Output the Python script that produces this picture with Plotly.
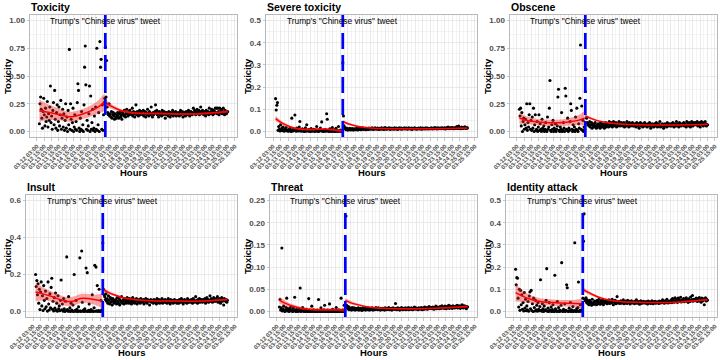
import pandas as pd
import plotly.graph_objects as go

# ---------------- data ----------------
BASE = pd.Timestamp("2020-03-12 03:00")          # first tick
TWEET = pd.Timestamp("2020-03-16 18:51")
DATA_START = pd.Timestamp("2020-03-12 07:00")
DATA_END = pd.Timestamp("2020-03-25 03:00")

panel_titles = ["Toxicity", "Severe toxicity", "Obscene", "Insult", "Threat", "Identity attack"]
y_max = [1.0, 0.5, 1.0, 0.6, 0.25, 0.5]
y_ticks = [
    [0, 0.25, 0.5, 0.75, 1.0],
    [0, 0.1, 0.2, 0.3, 0.4, 0.5],
    [0, 0.25, 0.5, 0.75, 1.0],
    [0, 0.2, 0.4, 0.6],
    [0, 0.05, 0.10, 0.15, 0.20, 0.25],
    [0, 0.1, 0.2, 0.3, 0.4, 0.5],
]
y_ticklabels = [
    ["0.00", "0.25", "0.50", "0.75", "1.00"],
    ["0.0", "0.1", "0.2", "0.3", "0.4", "0.5"],
    ["0.00", "0.25", "0.50", "0.75", "1.00"],
    ["0.0", "0.2", "0.4", "0.6"],
    ["0.00", "0.05", "0.10", "0.15", "0.20", "0.25"],
    ["0.0", "0.1", "0.2", "0.3", "0.4", "0.5"],
]
# values stored as integers; divide by the unit
value_unit = [100, 1000, 100, 1000, 1000, 1000]

# hours since BASE for each hourly observation
pre_hours = list(range(4, 112))     # 108 hours before the tweet
post_hours = list(range(112, 313))  # 201 hours after the tweet

tox_pre = [7, 25, 31, 20, 12, 3, 18, 30, 15, 5, 21, 9, 13, 27, 4, 16, 10, 22,
           41, 8, 14, 2, 19, 26, 6, 37, 11, 3, 17, 24, 1, 9, 22, 5, 15, 28, 2, 12, 20, 4,
           16, 1, 10, 25, 3, 13, 0, 19, 6, 74, 2, 25, 11, 1, 8, 21, 0, 4, 15, 2,
           9, 1, 26, 43, 37, 3, 0, 12, 2, 18, 1, 6, 0, 24, 58, 77, 42, 2, 10, 1,
           5, 16, 41, 0, 32, 2, 8, 20, 1, 3, 14, 0, 22, 2, 75, 1, 6, 17, 0, 81,
           58, 65, 2, 24, 1, 15, 26, 30]
tox_post = [76, 31, 64, 22, 17, 15, 25, 14, 16, 13, 18, 12, 15, 17, 14, 11, 16, 13, 12, 15,
            17, 14, 12, 16, 18, 13, 15, 11, 17, 16, 14, 19, 15, 13, 17, 20, 16, 14, 18, 15,
            19, 16, 17, 15, 21, 14, 18, 16, 13, 17, 24, 15, 18, 16, 14, 17, 19, 15, 16, 18,
            17, 15, 19, 14, 16, 18, 13, 17, 15, 20, 16, 14, 18, 17, 15, 22, 16, 13, 17, 15,
            16, 18, 24, 17, 19, 15, 16, 13, 18, 17, 15, 16, 14, 19, 17, 15, 18, 16, 12, 17,
            15, 17, 16, 14, 18, 16, 13, 17, 15, 16, 19, 14, 17, 15, 16, 18, 14, 16, 15, 17,
            16, 14, 17, 19, 15, 16, 18, 13, 16, 17, 15, 14, 18, 16, 15, 17, 19, 16, 14, 17,
            18, 16, 15, 17, 21, 16, 19, 17, 15, 18, 20, 16, 17, 19, 15, 18, 22, 17, 16, 19,
            17, 15, 18, 16, 14, 19, 17, 16, 18, 15, 21, 17, 16, 18, 20, 17, 15, 19, 16, 18,
            21, 17, 21, 16, 21, 18, 15, 21, 17, 19, 20, 16, 18, 21, 17, 15, 19, 18, 16, 17,
            18]

sev_pre = [148, 97, 118, 130, 5, 22, 10, 2, 30, 8, 15, 3, 20, 6, 1, 12, 4, 18, 7, 2,
           5, 1, 9, 14, 3, 0, 60, 8, 2, 11, 4, 74, 6, 1, 15, 3, 9, 2, 20, 45,
           7, 1, 4, 12, 2, 8, 0, 3, 16, 1, 30, 5, 2, 9, 1, 6, 0, 13, 3, 1,
           4, 10, 2, 0, 7, 3, 22, 1, 5, 0, 8, 2, 15, 4, 43, 1, 3, 0, 6, 2,
           9, 1, 80, 55, 4, 0, 2, 12, 1, 5, 0, 18, 3, 1, 7, 0, 2, 14, 1, 4,
           0, 22, 3, 1, 6, 0, 2, 1]
sev_post = [310, 70, 25, 18, 12, 8, 15, 10, 6, 12, 9, 14, 7, 11, 8, 13, 10, 6, 12, 9,
            11, 8, 14, 10, 7, 12, 9, 15, 11, 8, 13, 10, 16, 9, 12, 11, 14, 8, 10, 13,
            12, 9, 15, 11, 14, 10, 13, 16, 12, 9, 14, 11, 17, 13, 10, 12, 15, 11, 9, 14,
            13, 10, 16, 12, 11, 15, 9, 13, 18, 12, 10, 14, 11, 13, 16, 12, 9, 15, 13, 11,
            14, 12, 10, 16, 13, 11, 15, 12, 9, 14, 13, 17, 11, 12, 15, 10, 13, 14, 12, 16,
            11, 13, 15, 12, 10, 14, 16, 12, 13, 11, 15, 9, 14, 12, 13, 16, 11, 14, 12, 10,
            13, 15, 12, 14, 11, 16, 13, 10, 15, 12, 14, 13, 11, 17, 12, 14, 15, 11, 13, 12,
            14, 12, 16, 13, 11, 15, 14, 12, 18, 13, 15, 11, 14, 16, 12, 13, 15, 14, 12, 17,
            15, 13, 12, 16, 14, 11, 17, 15, 13, 20, 14, 12, 16, 15, 13, 18, 14, 16, 12, 15,
            17, 14, 16, 22, 13, 15, 24, 14, 17, 12, 16, 20, 15, 13, 18, 16, 21, 14, 17, 15,
            16]

obs_pre = [20, 14, 21, 5, 17, 0, 9, 12, 2, 6, 11, 3, 25, 1, 8, 4, 15, 25, 2, 10,
           1, 13, 3, 21, 0, 6, 15, 1, 2, 9, 0, 4, 15, 1, 7, 2, 0, 11, 3, 1,
           5, 0, 2, 8, 1, 0, 13, 2, 4, 21, 46, 1, 0, 6, 2, 10, 0, 3, 1, 7,
           0, 2, 5, 31, 38, 1, 0, 4, 2, 17, 0, 1, 8, 3, 0, 39, 32, 2, 1, 12,
           0, 3, 1, 9, 25, 19, 2, 0, 6, 1, 4, 0, 13, 2, 21, 1, 0, 7, 3, 30,
           78, 2, 23, 1, 10, 0, 4, 2]
obs_post = [36, 56, 12, 8, 6, 7, 5, 9, 4, 6, 8, 3, 7, 5, 6, 4, 8, 5, 3, 6,
            5, 7, 4, 6, 3, 8, 5, 4, 7, 6, 5, 3, 6, 8, 4, 5, 7, 6, 4, 9,
            6, 5, 8, 7, 4, 6, 9, 5, 7, 6, 8, 4, 7, 5, 6, 9, 7, 5, 6, 8,
            7, 5, 6, 8, 4, 7, 6, 5, 9, 6, 7, 4, 8, 6, 5, 7, 6, 8, 5, 6,
            5, 7, 6, 4, 8, 6, 5, 7, 3, 6, 8, 5, 6, 7, 4, 6, 5, 8, 6, 5,
            6, 4, 7, 5, 6, 8, 5, 3, 6, 7, 5, 6, 4, 7, 6, 5, 8, 6, 4, 7,
            5, 6, 9, 4, 6, 5, 7, 6, 3, 5, 7, 6, 5, 4, 8, 6, 5, 7, 6, 5,
            7, 5, 6, 8, 6, 4, 7, 5, 6, 9, 5, 7, 6, 4, 8, 6, 7, 5, 6, 7,
            6, 8, 5, 7, 6, 4, 9, 6, 7, 5, 8, 6, 4, 7, 9, 6, 5, 8, 7, 6,
            8, 6, 7, 9, 5, 7, 6, 8, 4, 7, 9, 6, 8, 5, 7, 6, 9, 7, 5, 6,
            6]

ins_pre = [200, 135, 167, 90, 150, 45, 120, 10, 105, 160, 30, 85, 5, 140, 60, 15, 110, 25, 70, 2,
           160, 40, 8, 95, 20, 130, 180, 12, 55, 3, 75, 18, 100, 6, 45, 1, 85, 14, 30, 4,
           60, 170, 9, 40, 2, 70, 15, 0, 55, 5, 295, 10, 1, 80, 3, 20, 0, 45, 7, 2,
           35, 0, 200, 5, 1, 60, 12, 0, 3, 25, 1, 290, 4, 0, 327, 50, 2, 8, 0, 15,
           3, 235, 1, 210, 0, 6, 40, 2, 0, 10, 1, 90, 4, 0, 20, 250, 1, 240, 3, 140,
           0, 5, 120, 2, 0, 60, 8, 1]
ins_post = [370, 120, 90, 80, 65, 95, 55, 70, 45, 85, 60, 40, 75, 50, 65, 35, 70, 55, 45, 60,
            50, 65, 40, 75, 55, 45, 70, 35, 60, 50, 80, 45, 55, 65, 40, 70, 50, 60, 45, 75,
            55, 60, 45, 70, 50, 65, 40, 55, 75, 50, 60, 45, 65, 55, 70, 40, 60, 50, 65, 55,
            45, 70, 55, 60, 50, 65, 40, 55, 60, 70, 50, 45, 65, 55, 60, 35, 55, 65, 50, 60,
            55, 45, 65, 50, 60, 55, 40, 70, 50, 55, 65, 45, 60, 55, 50, 70, 45, 55, 60, 50,
            65, 50, 55, 45, 60, 70, 50, 55, 40, 65, 55, 50, 60, 45, 55, 65, 50, 60, 55, 45,
            55, 60, 45, 65, 50, 55, 70, 50, 60, 40, 55, 65, 50, 60, 55, 45, 70, 55, 50, 60,
            60, 50, 65, 55, 45, 70, 55, 60, 50, 80, 55, 60, 45, 65, 55, 70, 50, 60, 65, 55,
            50, 65, 60, 55, 70, 45, 60, 75, 55, 65, 50, 60, 85, 55, 70, 60, 50, 65, 75, 55,
            65, 55, 70, 60, 80, 50, 65, 55, 70, 45, 60, 75, 55, 65, 35, 70, 60, 55, 65, 50,
            60]

thr_pre = [10, 27, 3, 8, 143, 1, 5, 12, 2, 0, 4, 9, 30, 1, 6, 3, 0, 7, 2, 11,
           1, 4, 0, 8, 2, 32, 1, 0, 5, 3, 0, 2, 6, 1, 53, 0, 4, 1, 9, 2,
           0, 3, 1, 0, 5, 2, 0, 1, 29, 0, 3, 1, 0, 12, 2, 0, 4, 1, 0, 2,
           1, 0, 3, 0, 27, 2, 0, 1, 8, 0, 2, 1, 0, 4, 14, 0, 1, 2, 0, 3,
           0, 1, 17, 0, 2, 0, 1, 5, 0, 3, 1, 0, 2, 9, 0, 1, 0, 4, 1, 0,
           2, 30, 0, 1, 3, 0, 14, 1]
thr_post = [10, 215, 14, 9, 6, 11, 4, 8, 5, 7, 3, 9, 6, 4, 8, 5, 3, 7, 6, 4,
            5, 8, 3, 6, 4, 7, 5, 2, 6, 8, 4, 5, 7, 3, 6, 5, 4, 8, 6, 3,
            6, 4, 7, 5, 8, 3, 6, 5, 4, 7, 9, 5, 6, 4, 8, 6, 5, 3, 7, 5,
            4, 7, 6, 5, 3, 8, 6, 4, 7, 5, 6, 9, 4, 6, 5, 7, 3, 6, 8, 5,
            6, 5, 18, 7, 4, 6, 8, 5, 6, 3, 7, 5, 9, 6, 4, 7, 5, 6, 8, 4,
            7, 5, 6, 9, 4, 7, 6, 5, 8, 6, 4, 7, 5, 10, 6, 8, 5, 7, 6, 4,
            8, 6, 7, 5, 9, 6, 4, 8, 7, 5, 10, 6, 8, 7, 5, 9, 6, 11, 7, 8,
            7, 9, 6, 10, 8, 5, 9, 7, 12, 6, 8, 10, 7, 9, 6, 11, 8, 7, 13, 9,
            8, 10, 7, 12, 9, 6, 11, 8, 10, 14, 7, 9, 12, 8, 10, 7, 13, 9, 11, 8,
            10, 12, 9, 14, 8, 11, 13, 10, 7, 12, 9, 15, 11, 8, 13, 10, 12, 9, 6, 11,
            10]

ida_pre = [190, 120, 153, 150, 60, 20, 100, 5, 95, 30, 75, 10, 40, 2, 85, 15, 55, 3, 25, 8,
           45, 1, 70, 88, 12, 95, 4, 35, 0, 60, 18, 2, 50, 7, 28, 1, 40, 10, 3, 22,
           143, 5, 1, 35, 12, 0, 25, 3, 8, 50, 193, 1, 15, 0, 40, 6, 2, 20, 0, 9,
           30, 1, 0, 163, 12, 4, 0, 45, 2, 18, 0, 6, 1, 28, 220, 3, 0, 10, 2, 35,
           0, 5, 120, 107, 1, 0, 15, 3, 40, 0, 8, 1, 22, 0, 4, 310, 2, 0, 12, 1,
           18, 133, 0, 5, 30, 1, 8, 2]
ida_post = [60, 317, 440, 55, 48, 62, 40, 52, 35, 45, 30, 50, 38, 42, 28, 55, 35, 40, 32, 47,
            38, 45, 30, 50, 42, 35, 55, 40, 33, 48, 44, 36, 52, 30, 46, 40, 38, 50, 42, 35,
            45, 40, 52, 36, 48, 42, 38, 55, 44, 30, 47, 40, 50, 35, 43, 67, 38, 45, 41, 36,
            42, 48, 37, 45, 40, 52, 35, 44, 38, 47, 41, 36, 50, 43, 39, 46, 34, 42, 48, 40,
            38, 44, 41, 35, 47, 40, 52, 37, 43, 39, 45, 33, 41, 48, 36, 42, 40, 46, 38, 44,
            41, 37, 45, 40, 34, 47, 42, 38, 44, 36, 41, 48, 39, 35, 43, 40, 46, 37, 42, 39,
            44, 40, 36, 47, 42, 38, 45, 41, 52, 39, 43, 37, 48, 42, 40, 55, 44, 38, 46, 41,
            47, 43, 52, 40, 58, 45, 50, 42, 62, 48, 44, 55, 41, 60, 47, 52, 45, 64, 43, 50,
            52, 46, 58, 44, 55, 49, 62, 47, 53, 41, 57, 50, 45, 65, 48, 54, 72, 46, 55, 51,
            55, 48, 60, 52, 45, 58, 50, 63, 47, 55, 42, 60, 52, 48, 57, 30, 53, 62, 47, 55,
            50]

pre_values = [tox_pre, sev_pre, obs_pre, ins_pre, thr_pre, ida_pre]
post_values = [tox_post, sev_post, obs_post, ins_post, thr_post, ida_post]

# smoothed trend (loess-like): knots in hours since BASE
pre_knot_hours = [4, 16, 28, 40, 52, 64, 76, 88, 100, 111]
post_knot_hours = [112, 120, 130, 142, 156, 175, 200, 230, 260, 285, 300, 312]

pre_fit = [
    [0.185, 0.175, 0.162, 0.148, 0.132, 0.140, 0.160, 0.185, 0.220, 0.265],
    [0.058, 0.035, 0.020, 0.012, 0.009, 0.009, 0.011, 0.010, 0.006, 0.002],
    [0.120, 0.100, 0.090, 0.082, 0.078, 0.078, 0.080, 0.088, 0.100, 0.120],
    [0.105, 0.095, 0.083, 0.068, 0.055, 0.055, 0.070, 0.070, 0.063, 0.058],
    [0.025, 0.017, 0.011, 0.007, 0.005, 0.004, 0.004, 0.004, 0.004, 0.003],
    [0.085, 0.068, 0.055, 0.047, 0.042, 0.040, 0.038, 0.037, 0.036, 0.035],
]
pre_se = [
    [0.100, 0.075, 0.060, 0.050, 0.045, 0.045, 0.045, 0.050, 0.060, 0.080],
    [0.012, 0.008, 0.006, 0.005, 0.005, 0.005, 0.005, 0.005, 0.006, 0.009],
    [0.050, 0.035, 0.030, 0.028, 0.028, 0.028, 0.030, 0.035, 0.045, 0.065],
    [0.050, 0.035, 0.028, 0.025, 0.024, 0.024, 0.025, 0.025, 0.028, 0.040],
    [0.008, 0.005, 0.004, 0.003, 0.003, 0.003, 0.003, 0.003, 0.003, 0.005],
    [0.040, 0.025, 0.018, 0.015, 0.014, 0.014, 0.014, 0.015, 0.017, 0.022],
]
post_fit = [
    [0.262, 0.232, 0.205, 0.182, 0.168, 0.162, 0.162, 0.158, 0.158, 0.166, 0.174, 0.180],
    [0.045, 0.035, 0.027, 0.020, 0.016, 0.013, 0.012, 0.012, 0.012, 0.013, 0.014, 0.015],
    [0.140, 0.120, 0.100, 0.085, 0.073, 0.065, 0.060, 0.058, 0.058, 0.060, 0.062, 0.065],
    [0.120, 0.105, 0.090, 0.077, 0.067, 0.060, 0.057, 0.056, 0.055, 0.058, 0.062, 0.064],
    [0.025, 0.020, 0.016, 0.012, 0.009, 0.007, 0.006, 0.006, 0.007, 0.009, 0.010, 0.011],
    [0.100, 0.087, 0.073, 0.060, 0.050, 0.044, 0.041, 0.040, 0.041, 0.046, 0.050, 0.053],
]
post_se = [
    [0.030, 0.022, 0.016, 0.012, 0.010, 0.010, 0.009, 0.009, 0.009, 0.010, 0.011, 0.015],
    [0.007, 0.005, 0.004, 0.003, 0.003, 0.002, 0.002, 0.002, 0.002, 0.002, 0.003, 0.004],
    [0.015, 0.011, 0.008, 0.006, 0.005, 0.004, 0.004, 0.004, 0.004, 0.004, 0.005, 0.007],
    [0.012, 0.009, 0.007, 0.005, 0.004, 0.004, 0.004, 0.004, 0.004, 0.004, 0.005, 0.007],
    [0.005, 0.004, 0.003, 0.002, 0.002, 0.0015, 0.0015, 0.0015, 0.0015, 0.0015, 0.002, 0.003],
    [0.010, 0.008, 0.006, 0.005, 0.004, 0.003, 0.003, 0.003, 0.003, 0.004, 0.004, 0.006],
]

# x tick labels every 12 hours
x_tick_times = pd.date_range("2020-03-12 03:00", "2020-03-25 15:00", freq="12h")
x_tick_labels = [t.strftime("%m-%d %H:%M") for t in x_tick_times]

# ---------------- layout geometry (pixels) ----------------
W, H = 720, 360
panel_left = [30, 266, 510, 26, 270, 506]
panel_right = [237, 477, 717, 237, 477, 717]
panel_top = [15, 15, 15, 195, 195, 195]
panel_bottom = [137, 137, 137, 317, 317, 317]
col_origin = [0, 240, 480, 0, 240, 480]

span = DATA_END - DATA_START
x_range = [DATA_START - span * 0.05, DATA_END + span * 0.05]
x_minor = [t + pd.Timedelta(hours=6) for t in x_tick_times]
x_minor = [x_tick_times[0] - pd.Timedelta(hours=6)] + x_minor

FONT = "Liberation Sans, Arial, sans-serif"
GRID = "#e3e3e3"
BORDER = "#b8b8b8"

fig = go.Figure()
annotations = []
shapes = []


def hours_to_time(hs):
    return [BASE + pd.Timedelta(hours=h) for h in hs]


for k in range(6):
    ax = "" if k == 0 else str(k + 1)
    xref, yref = "x" + ax, "y" + ax
    unit = value_unit[k]
    ymax = y_max[k]

    # points
    for hrs, vals in ((pre_hours, pre_values[k]), (post_hours, post_values[k])):
        fig.add_trace(go.Scatter(
            x=hours_to_time(hrs), y=[v / unit for v in vals], mode="markers",
            marker=dict(color="black", size=3.1, line=dict(width=0)),
            xaxis=xref, yaxis=yref, showlegend=False, hoverinfo="skip"))

    # smooth fits with confidence band
    for hrs, fit, se in ((pre_knot_hours, pre_fit[k], pre_se[k]),
                         (post_knot_hours, post_fit[k], post_se[k])):
        tx = hours_to_time(hrs)
        upper = [f + s for f, s in zip(fit, se)]
        lower = [f - s for f, s in zip(fit, se)]
        fig.add_trace(go.Scatter(
            x=tx, y=upper, mode="lines", line=dict(width=0, shape="spline"),
            xaxis=xref, yaxis=yref, showlegend=False, hoverinfo="skip"))
        fig.add_trace(go.Scatter(
            x=tx, y=lower, mode="lines", line=dict(width=0, shape="spline"),
            fill="tonexty", fillcolor="rgba(242,40,40,0.42)",
            xaxis=xref, yaxis=yref, showlegend=False, hoverinfo="skip"))
        fig.add_trace(go.Scatter(
            x=tx, y=fit, mode="lines", line=dict(color="#ff0000", width=1.5, shape="spline"),
            xaxis=xref, yaxis=yref, showlegend=False, hoverinfo="skip"))

    yt = y_ticks[k]
    y_minor = [(a + b) / 2 for a, b in zip(yt[:-1], yt[1:])]

    fig.layout["xaxis" + ax] = dict(
        domain=[panel_left[k] / W, panel_right[k] / W],
        anchor=yref, type="date", range=x_range,
        tickmode="array", tickvals=list(x_tick_times), ticktext=x_tick_labels,
        tickangle=-45, tickfont=dict(family=FONT, size=6, color="#4d4d4d", weight="bold"),
        ticks="outside", ticklen=2.5, tickcolor=BORDER, tickwidth=0.8,
        showgrid=True, gridcolor=GRID, gridwidth=0.8,
        minor=dict(tickmode="array", tickvals=x_minor, showgrid=True, gridcolor=GRID,
                   gridwidth=0.4, ticks=""),
        showline=True, mirror=True, linecolor=BORDER, linewidth=1,
        zeroline=False, automargin=False, fixedrange=True,
    )
    fig.layout["yaxis" + ax] = dict(
        domain=[1 - panel_bottom[k] / H, 1 - panel_top[k] / H],
        anchor=xref, range=[-0.05 * ymax, 1.05 * ymax],
        tickmode="array", tickvals=yt, ticktext=y_ticklabels[k],
        tickfont=dict(family=FONT, size=8, color="#4d4d4d", weight="bold"),
        ticks="outside", ticklen=2.5, tickcolor=BORDER, tickwidth=0.8,
        showgrid=True, gridcolor=GRID, gridwidth=0.8,
        minor=dict(tickmode="array", tickvals=y_minor, showgrid=True, gridcolor=GRID,
                   gridwidth=0.4, ticks=""),
        showline=True, mirror=True, linecolor=BORDER, linewidth=1,
        zeroline=False, automargin=False, fixedrange=True,
    )

    # tweet marker
    shapes.append(dict(type="line", xref=xref, yref=yref + " domain",
                       x0=TWEET, x1=TWEET, y0=0, y1=1, layer="above",
                       line=dict(color="#0000ff", width=2.7, dash="16px,6px")))
    annotations.append(dict(x=TWEET, y=ymax, xref=xref, yref=yref,
                            text='Trump\'s "Chinese virus" tweet', showarrow=False,
                            xanchor="center", yanchor="middle",
                            font=dict(family=FONT, size=8.3, color="black")))
    # panel title
    annotations.append(dict(x=(panel_left[k] - 1) / W, y=1 - (panel_top[k] - 8) / H,
                            xref="paper", yref="paper", text="<b>%s</b>" % panel_titles[k],
                            showarrow=False, xanchor="left", yanchor="middle",
                            font=dict(family=FONT, size=10.5, color="black")))
    # x axis title
    annotations.append(dict(x=(panel_left[k] + panel_right[k]) / 2 / W,
                            y=1 - (panel_bottom[k] + 35) / H,
                            xref="paper", yref="paper", text="<b>Hours</b>",
                            showarrow=False, xanchor="center", yanchor="middle",
                            font=dict(family=FONT, size=9.5, color="black")))
    # y axis title
    annotations.append(dict(x=(col_origin[k] + 7) / W,
                            y=1 - (panel_top[k] + panel_bottom[k]) / 2 / H,
                            xref="paper", yref="paper", text="<b>Toxicity</b>",
                            showarrow=False, textangle=-90, xanchor="center", yanchor="middle",
                            font=dict(family=FONT, size=9.5, color="black")))

fig.update_layout(
    width=W, height=H, margin=dict(l=0, r=0, t=0, b=0),
    paper_bgcolor="white", plot_bgcolor="white",
    annotations=annotations, shapes=shapes, showlegend=False,
)

fig.write_html("out.html",
               config={"displayModeBar": False, "staticPlot": True},
               post_script="document.body.style.margin='0';document.body.style.padding='0';")
